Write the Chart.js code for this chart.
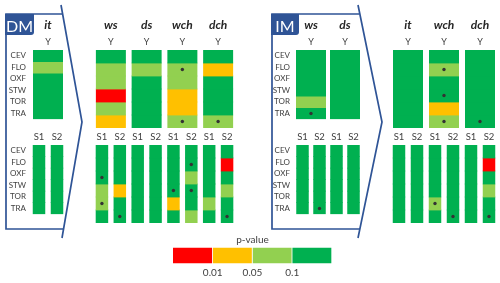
<!DOCTYPE html>
<html><head><meta charset="utf-8">
<script src="https://cdn.jsdelivr.net/npm/chart.js@4/dist/chart.umd.min.js"></script>
<style>
html,body{margin:0;padding:0;background:#fff;}
#wrap{position:relative;width:500px;height:283px;overflow:hidden;}
canvas{position:absolute;}
svg{position:absolute;left:0;top:0;}
</style></head><body>
<div id="wrap">
<canvas id="leg" width="159" height="53" style="left:173px;top:230px;width:159px;height:53px"></canvas>
<svg width="500" height="283" viewBox="0 0 500 283">
 <g fill="none" stroke="#2f5496" stroke-width="1.7" stroke-linejoin="miter">
  <path d="M63,14 H6 V229 H63"/>
  <path d="M61,5 L82,122 L62,238"/>
  <path d="M359,14 H272 V229 H360"/>
  <path d="M358,5 L382,122 L358,238"/>
 </g>
 <path d="M5,14 H34 V32 Q34,35 31,35 H5 Z" fill="#2f5496"/>
 <path d="M271,14 H299 V32 Q299,35 296,35 H271 Z" fill="#2f5496"/>
 <text x="19.5" y="32" fill="#fff" font-size="16" text-anchor="middle" font-family="Lato, sans-serif">DM</text>
 <text x="285" y="32" fill="#fff" font-size="16" text-anchor="middle" font-family="Lato, sans-serif">IM</text>
</svg>
</div>
<script>
// ---------------- data ----------------
const rows = ['CEV', 'FLO', 'OXF', 'STW', 'TOR', 'TRA'];
// p-value classes: 0 = p<0.01, 1 = 0.01-0.05, 2 = 0.05-0.1, 3 = >0.1
const classColors = ['#ff0000', '#ffc000', '#92d050', '#00b050'];
const pBreaks = ['0.01', '0.05', '0.1'];
const subSeries = ['S1', 'S2'];

const dmCols = ['it', 'ws', 'ds', 'wch', 'dch'];
const dmY  = [[3,2,3,3,3,3], [3,2,2,0,2,1], [3,2,3,3,3,3], [3,2,2,1,1,2], [3,1,3,3,3,2]];
const dmS1 = [[3,3,3,3,3,3], [3,3,3,2,2,3], [3,3,3,3,3,3], [3,3,3,3,1,3], [3,3,3,3,2,3]];
const dmS2 = [[3,3,3,3,3,3], [3,3,3,1,3,3], [3,3,3,3,3,3], [3,3,2,3,3,2], [3,0,3,2,3,3]];
const dmYDots  = [[], [], [], [1,5], [5]];
const dmS1Dots = [[], [2,4], [], [3], []];
const dmS2Dots = [[], [5], [], [1,3], [5]];

const imCols = ['ws', 'ds', 'it', 'wch', 'dch'];
const imY  = [[3,3,3,3,2,3], [3,3,3,3,3,3], [3,3,3,3,3,3], [3,2,3,3,1,2], [3,3,3,3,3,3]];
const imS1 = [[3,3,3,3,3,3], [3,3,3,3,3,3], [3,3,3,3,3,3], [3,3,3,3,2,3], [3,3,3,3,3,3]];
const imS2 = [[3,3,3,3,3,3], [3,3,3,3,3,3], [3,3,3,3,3,3], [3,3,3,3,3,3], [3,0,3,2,3,3]];
const imYDots  = [[5], [], [], [1,3,5], [5]];
const imS1Dots = [[], [], [], [4], []];
const imS2Dots = [[5], [], [], [5], [5]];

// ---------------- layout / style ----------------
const TEXT = '#404040';
Chart.defaults.font.family = "Lato, 'Liberation Sans', sans-serif";
Chart.defaults.color = TEXT;
Chart.defaults.animation = false;

const panels = {
  DM: {cols: dmCols, Y: dmY, S1: dmS1, S2: dmS2, YD: dmYDots, S1D: dmS1Dots, S2D: dmS2Dots},
  IM: {cols: imCols, Y: imY, S1: imS1, S2: imS2, YD: imYDots, S1D: imS1Dots, S2D: imS2Dots}
};
const groups = [
  {panel: 'DM', idx: [0],          left: 0,   width: 66,  yw: 30, showRows: true},
  {panel: 'DM', idx: [1, 2, 3, 4], left: 93,  width: 143, yw: 0,  showRows: false},
  {panel: 'IM', idx: [0, 1],       left: 262, width: 100, yw: 32, showRows: true},
  {panel: 'IM', idx: [2, 3, 4],    left: 390, width: 108, yw: 0,  showRows: false}
];
const TOP = {top: 0, height: 128, head: 50};   // Y block
const BOTTOM = {top: 128, height: 95, head: 17}; // S1/S2 block
const INFLATE = 0.4;
const TOP_BAR = 30 - 2 * INFLATE, SUB_BAR = 12.5 - 2 * INFLATE;

function makeCanvas(left, top, w, h) {
  const c = document.createElement('canvas');
  c.width = w; c.height = h;
  c.style.left = left + 'px'; c.style.top = top + 'px';
  c.style.width = w + 'px'; c.style.height = h + 'px';
  document.getElementById('wrap').insertBefore(c, document.querySelector('svg'));
  return c;
}

// one dataset per row; each column's cell coloured by its p-value class
function rowDatasets(cols, dots, barPct) {
  return rows.map((r, ri) => ({
    label: r,
    data: cols.map(() => 1),
    backgroundColor: cols.map(col => classColors[col[ri]]),
    dots: dots.map(d => d.includes(ri)),
    grouped: false,
    categoryPercentage: 1,
    barPercentage: barPct,
    borderWidth: 0,
    inflateAmount: INFLATE
  }));
}

const dotPlugin = {
  id: 'dots',
  afterDatasetsDraw(chart) {
    const ctx = chart.ctx;
    ctx.save();
    ctx.fillStyle = '#333333';
    chart.data.datasets.forEach((ds, i) => {
      chart.getDatasetMeta(i).data.forEach((bar, j) => {
        if (ds.dots && ds.dots[j]) {
          ctx.beginPath();
          ctx.arc(bar.x, (bar.y + bar.base) / 2, 1.7, 0, Math.PI * 2);
          ctx.fill();
        }
      });
    });
    ctx.restore();
  }
};

function rowAxis(g) {
  return {
    type: 'linear', reverse: true, min: 0, max: rows.length, stacked: true,
    display: g.showRows, position: 'left',
    grid: {display: false, drawTicks: false}, border: {display: false},
    afterBuildTicks: s => { s.ticks = rows.map((r, i) => ({value: i + 0.5})); },
    ticks: {autoSkip: false, padding: 4, font: {size: 8}, callback: (v, i) => rows[i]},
    afterFit: s => { s.width = g.yw; }
  };
}
const noGrid = {grid: {display: false, drawTicks: false}, border: {display: false}};
const baseOpts = {
  responsive: false, animation: false, layout: {padding: 0},
  plugins: {legend: {display: false}, tooltip: {enabled: false}, title: {display: false}}
};

groups.forEach(g => {
  const p = panels[g.panel];
  const cols = g.idx.map(i => p.cols[i]);
  const pick = arr => g.idx.map(i => arr[i]);

  // ---- Y block ----
  const slot = (g.width - g.yw) / cols.length;
  new Chart(makeCanvas(g.left, TOP.top, g.width, TOP.height), {
    type: 'bar',
    data: {labels: cols, datasets: rowDatasets(pick(p.Y), pick(p.YD), TOP_BAR / slot)},
    options: {
      ...baseOpts,
      scales: {
        x: {
          type: 'category', position: 'top', offset: true, weight: 2, stacked: true, ...noGrid,
          ticks: {padding: 2, color: '#262626', font: {size: 12, weight: 'bold', style: 'italic'}},
          afterFit: s => { s.height = TOP.head - 16; }
        },
        xY: {
          type: 'category', labels: cols.map(() => 'Y'), position: 'top', offset: true, weight: 1, ...noGrid,
          ticks: {padding: 3, font: {size: 9}},
          afterFit: s => { s.height = 16; }
        },
        y: rowAxis(g)
      }
    },
    plugins: [dotPlugin]
  });

  // ---- S1 / S2 block ----
  const subLabels = cols.flatMap(() => subSeries);
  const subVals = [];
  const subDots = [];
  g.idx.forEach(i => {
    subVals.push(p.S1[i], p.S2[i]);
    subDots.push(p.S1D[i], p.S2D[i]);
  });
  const sslot = (g.width - g.yw) / subLabels.length;
  new Chart(makeCanvas(g.left, BOTTOM.top, g.width, BOTTOM.height), {
    type: 'bar',
    data: {labels: subLabels, datasets: rowDatasets(subVals, subDots, SUB_BAR / sslot)},
    options: {
      ...baseOpts,
      scales: {
        x: {
          type: 'category', position: 'top', offset: true, stacked: true, ...noGrid,
          ticks: {padding: 2, font: {size: 9.5}, autoSkip: false, maxRotation: 0},
          afterFit: s => { s.height = BOTTOM.head; }
        },
        y: rowAxis(g)
      }
    },
    plugins: [dotPlugin]
  });
});

// ---------------- p-value colour scale ----------------
new Chart(document.getElementById('leg'), {
  type: 'bar',
  data: {
    labels: ['p-value'],
    datasets: classColors.map(c => ({
      data: [1], backgroundColor: c, borderColor: 'rgba(255,255,255,0.7)', borderWidth: 1,
      categoryPercentage: 1, barPercentage: 1
    }))
  },
  options: {
    indexAxis: 'y',
    responsive: false,
    animation: false,
    layout: {padding: 0},
    plugins: {
      legend: {display: false}, tooltip: {enabled: false},
      title: {display: true, text: 'p-value', color: TEXT, font: {size: 10, weight: 'normal'}, padding: {top: 4, bottom: 1}}
    },
    scales: {
      x: {
        stacked: true, min: 0, max: classColors.length, ...noGrid,
        afterBuildTicks: s => { s.ticks = pBreaks.map((b, i) => ({value: i + 1})); },
        ticks: {autoSkip: false, padding: 3, font: {size: 10}, callback: (v, i) => pBreaks[i]},
        afterFit: s => { s.height = 19; }
      },
      y: {stacked: true, display: false}
    }
  }
});
</script>
</body></html>
